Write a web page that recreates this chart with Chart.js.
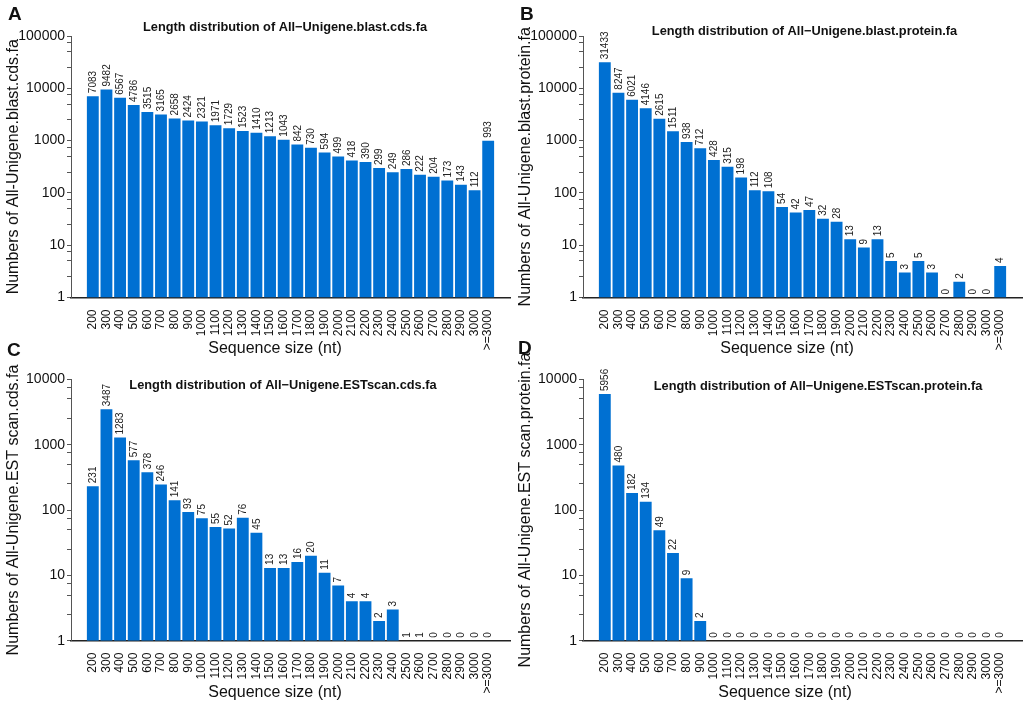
<!DOCTYPE html>
<html>
<head>
<meta charset="utf-8">
<script src="https://cdn.jsdelivr.net/npm/chart.js@4.4.1/dist/chart.umd.min.js"></script>
<style>
html,body{margin:0;padding:0;background:#fff;}
body{width:1024px;height:707px;position:relative;overflow:hidden;font-family:"Liberation Sans",Arial,sans-serif;}
.panel{position:absolute;width:512px;}
.top{top:0;height:362px;}
.bottom{top:340px;height:367px;}
.letter{position:absolute;font:bold 19px/19px "Liberation Sans",Arial,sans-serif;color:#111;}
</style>
</head>
<body>
<div class="panel top" style="left:0"><canvas id="cA"></canvas></div>
<div class="panel top" style="left:512px"><canvas id="cB"></canvas></div>
<div class="panel bottom" style="left:0"><canvas id="cC"></canvas></div>
<div class="panel bottom" style="left:512px"><canvas id="cD"></canvas></div>
<div class="letter" style="left:8px;top:4px">A</div>
<div class="letter" style="left:520px;top:4px">B</div>
<div class="letter" style="left:7px;top:340px">C</div>
<div class="letter" style="left:518px;top:338px">D</div>
<script>
// ---- data ----
const categories = ['200','300','400','500','600','700','800','900','1000','1100','1200','1300','1400','1500','1600','1700','1800','1900','2000','2100','2200','2300','2400','2500','2600','2700','2800','2900','3000','>=3000'];
const blastCds = [7083,9482,6567,4786,3515,3165,2658,2424,2321,1971,1729,1523,1410,1213,1043,842,730,594,499,418,390,299,249,286,222,204,173,143,112,993];
const blastProtein = [31433,8247,6021,4146,2615,1511,938,712,428,315,198,112,108,54,42,47,32,28,13,9,13,5,3,5,3,0,2,0,0,4];
const estCds = [231,3487,1283,577,378,246,141,93,75,55,52,76,45,13,13,16,20,11,7,4,4,2,3,1,1,0,0,0,0,0];
const estProtein = [5956,480,182,134,49,22,9,2,0,0,0,0,0,0,0,0,0,0,0,0,0,0,0,0,0,0,0,0,0,0];
const decadesTop = [1,10,100,1000,10000,100000];
const decadesBottom = [1,10,100,1000,10000];
const minorFactors = [2.5,5,7.5];
const xTitle = 'Sequence size (nt)';

const FONT = '"Liberation Sans", Arial, sans-serif';
const BAR = '#0070D2';

function buildLogTicks(decades){
  const t = [];
  decades.forEach((d,i)=>{
    t.push({value:d});
    if (i < decades.length-1) minorFactors.forEach(m=>t.push({value:d*m}));
  });
  return t;
}

const panelText = {
  id:'panelText',
  afterDraw(chart, args, o){
    const ctx = chart.ctx;
    ctx.save();
    ctx.fillStyle = '#111';
    ctx.textAlign = 'center';
    ctx.textBaseline = 'middle';
    ctx.font = 'bold 12.8px ' + FONT;
    ctx.fillText(o.title, o.tx, o.ty);
    ctx.font = '16px ' + FONT;
    ctx.fillText(o.xTitle, o.xx, o.xy);
    ctx.restore();
  }
};

const barValues = {
  id:'barValues',
  afterDatasetsDraw(chart){
    const ctx = chart.ctx, xs = chart.scales.x, ys = chart.scales.y;
    ctx.save();
    ctx.font = '10px ' + FONT;
    ctx.fillStyle = '#222';
    ctx.textAlign = 'left';
    ctx.textBaseline = 'middle';
    chart.data.datasets[0].data.forEach(p=>{
      const x = xs.getPixelForValue(p.x);
      const y = ys.getPixelForValue(p.y > 0 ? p.y : ys.min);
      ctx.save();
      ctx.translate(x + 0.5, y - 3);
      ctx.rotate(-Math.PI/2);
      ctx.fillText(String(p.y), 0, 0);
      ctx.restore();
    });
    ctx.restore();
  }
};

function makeChart(id, values, title, yTitle, decades, geo){
  new Chart(document.getElementById(id), {
    type:'bar',
    data:{
      datasets:[{
        data: values.map((v,i)=>({x:i, y:v})),
        backgroundColor: BAR,
        borderWidth: 0,
        barPercentage: 0.87,
        categoryPercentage: 1.0
      }]
    },
    options:{
      responsive:true,
      maintainAspectRatio:false,
      animation:false,
      layout:{padding:{top:geo.top, right:2, left:0, bottom:0}},
      plugins:{
        legend:{display:false},
        tooltip:{enabled:false},
        title:{display:false},
        panelText:{title:title, tx:geo.tx, ty:geo.ty, xTitle:xTitle, xx:geo.xx, xy:geo.xy}
      },
      scales:{
        x:{
          type:'linear',
          offset:false,
          min:-1.6, max:30.6,
          afterBuildTicks:s=>{ s.ticks = categories.map((c,i)=>({value:i})); },
          afterFit:s=>{ s.height = geo.xh; },
          ticks:{
            callback:v=>categories[v],
            autoSkip:false, minRotation:90, maxRotation:90,
            font:{size:12, family:FONT}, color:'#111', padding:4
          },
          grid:{display:false, offset:false},
          border:{display:true, color:'#222', width:1.5}
        },
        y:{
          type:'logarithmic',
          min:1, max:decades[decades.length-1],
          afterBuildTicks:s=>{ s.ticks = buildLogTicks(decades); },
          afterFit:s=>{ s.width = 71; },
          ticks:{
            callback:v=>decades.includes(v) ? String(v) : '',
            autoSkip:false,
            font:{size:14, family:FONT}, color:'#111', padding:2
          },
          grid:{drawOnChartArea:false, drawTicks:true, tickLength:4, color:'#555', lineWidth:1},
          border:{display:true, color:'#555', width:1},
          title:{display:true, text:yTitle, font:{size:16, family:FONT}, color:'#111', padding:{top:4,bottom:4}}
        }
      }
    },
    plugins:[panelText, barValues]
  });
}

makeChart('cA', blastCds, 'Length distribution of All\u2212Unigene.blast.cds.fa', 'Numbers of All-Unigene.blast.cds.fa', decadesTop,
  {top:36, xh:64.5, tx:285, ty:27.7, xx:275, xy:349});
makeChart('cB', blastProtein, 'Length distribution of All\u2212Unigene.blast.protein.fa', 'Numbers of All-Unigene.blast.protein.fa', decadesTop,
  {top:36, xh:64.5, tx:292.5, ty:31.7, xx:275, xy:349});
makeChart('cC', estCds, 'Length distribution of All\u2212Unigene.ESTscan.cds.fa', 'Numbers of All-Unigene.EST scan.cds.fa', decadesBottom,
  {top:39.3, xh:66.3, tx:283, ty:45.3, xx:275, xy:352.5});
makeChart('cD', estProtein, 'Length distribution of All\u2212Unigene.ESTscan.protein.fa', 'Numbers of All-Unigene.EST scan.protein.fa', decadesBottom,
  {top:39.3, xh:66.3, tx:306, ty:46.7, xx:273, xy:352.5});
</script>
</body>
</html>
